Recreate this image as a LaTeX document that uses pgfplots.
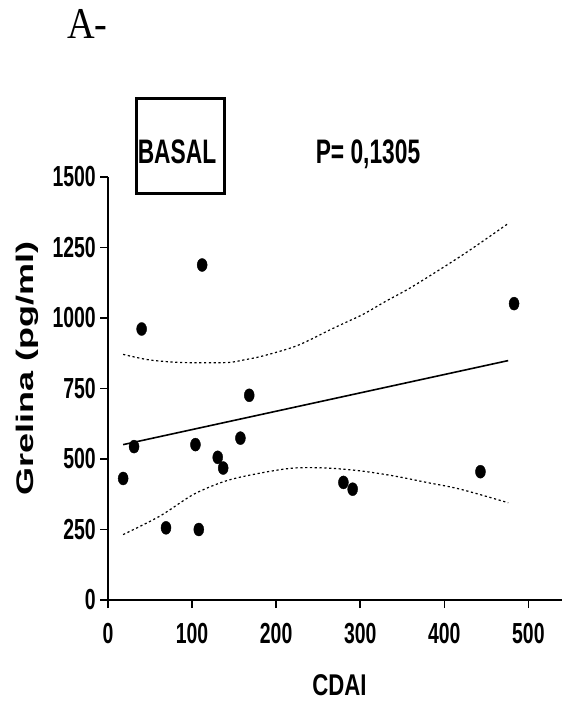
\documentclass[border=0pt]{standalone}
\usepackage{fontspec}
\usepackage{pgfplots}
\pgfplotsset{compat=1.18}
\newfontfamily\af[FakeStretch=0.67]{Liberation Sans}
\newfontfamily\xf[FakeStretch=0.74]{Liberation Sans}
\newfontfamily\yf[FakeStretch=1.5]{Liberation Sans}
\newfontfamily\serf[FakeStretch=0.87]{Liberation Serif}
\begin{document}
\begin{tikzpicture}
\path[use as bounding box] (0,0) rectangle (562bp,-702bp);
\begin{axis}[
  at={(108bp,-600bp)}, anchor=south west,
  scale only axis,
  width=454bp, height=423bp,
  xmin=0, xmax=540,
  ymin=0, ymax=1500,
  axis x line=bottom, axis y line=left,
  axis line style={-, line width=1.8bp},
  xtick={0,100,...,500},
  ytick={0,250,...,1500},
  tick align=outside,
  major tick length=8bp,
  tick style={line width=1.5bp, black},
  /pgf/number format/assume math mode=true,
  /pgf/number format/1000 sep={},
  ticklabel style={font=\af\bfseries\fontsize{29bp}{30bp}\selectfont},
  xticklabel style={anchor=base, yshift=-35bp},
  yticklabel style={anchor=east, inner sep=0pt, xshift=-4bp},
  xlabel={CDAI},
  xlabel style={at={(axis description cs:0.51,0)}, anchor=base, yshift=-95bp,
    font=\xf\bfseries\fontsize{30bp}{32bp}\selectfont},
  ylabel={Grelina (pg/ml)},
  ylabel style={at={(axis description cs:-0.178,0.548)}, anchor=center,
    font=\yf\bfseries\fontsize{24bp}{26bp}\selectfont},
  clip=false,
]
% upper confidence band
\addplot[black, line width=1.2bp, dash pattern=on 2.2bp off 2.6bp, smooth] coordinates {
  (18,871) (50,851) (90,842) (141,842) (161,851) (185,866) (225,902)
  (264,958) (284,986) (304,1014) (332,1062) (363,1113) (423,1226) (475,1333)
};
% lower confidence band
\addplot[black, line width=1.2bp, dash pattern=on 2.2bp off 2.6bp, smooth] coordinates {
  (18,232) (62,298) (102,375) (141,423) (181,450) (221,468) (260,468)
  (300,458) (340,440) (379,417) (419,393) (476,345)
};
% regression line
\addplot[black, line width=1.6bp] coordinates {(18,551) (476,849)};
% data
\addplot[only marks, mark=*, mark size=5bp, mark options={yscale=1.3, fill=black, draw=black}] coordinates {
  (18,431) (31,544) (40,961) (69,256) (104,551) (108,250) (112,1188)
  (130.5,506) (137,468) (157.5,574) (168,726) (280,417) (291,393)
  (443,455) (483,1051)
};
\end{axis}
\node[anchor=base west, inner sep=0pt, font=\serf\fontsize{44bp}{46bp}\selectfont] at (67bp,-38bp) {A-};
\draw[line width=3bp] (136bp,-98bp) rectangle (224bp,-193bp);
\node[anchor=base, inner sep=0pt, font=\af\bfseries\fontsize{34bp}{36bp}\selectfont] at (177bp,-163bp) {BASAL};
\node[anchor=base, inner sep=0pt, font=\af\bfseries\fontsize{34bp}{36bp}\selectfont] at (368bp,-163bp) {P= 0,1305};
\end{tikzpicture}
\end{document}
